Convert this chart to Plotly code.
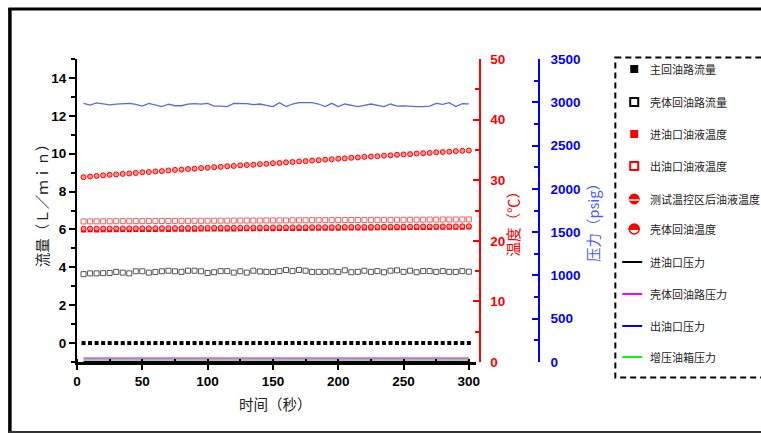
import plotly.graph_objects as go

# ---- data -------------------------------------------------------------
time_s = [5, 10, 15, 20, 25, 30, 35, 40, 45, 50, 55, 60, 65, 70, 75, 80, 85, 90, 95, 100,
          105, 110, 115, 120, 125, 130, 135, 140, 145, 150, 155, 160, 165, 170, 175, 180, 185, 190, 195, 200,
          205, 210, 215, 220, 225, 230, 235, 240, 245, 250, 255, 260, 265, 270, 275, 280, 285, 290, 295, 300]

# flow, L/min
main_return_flow = [0.0, 0.0, 0.0, 0.0, 0.0, 0.0, 0.0, 0.0, 0.0, 0.0, 0.0, 0.0, 0.0, 0.0, 0.0, 0.0, 0.0, 0.0, 0.0, 0.0,
                    0.0, 0.0, 0.0, 0.0, 0.0, 0.0, 0.0, 0.0, 0.0, 0.0, 0.0, 0.0, 0.0, 0.0, 0.0, 0.0, 0.0, 0.0, 0.0, 0.0,
                    0.0, 0.0, 0.0, 0.0, 0.0, 0.0, 0.0, 0.0, 0.0, 0.0, 0.0, 0.0, 0.0, 0.0, 0.0, 0.0, 0.0, 0.0, 0.0, 0.0]
case_return_flow = [3.64, 3.68, 3.68, 3.69, 3.70, 3.76, 3.72, 3.68, 3.79, 3.79, 3.72, 3.75, 3.79, 3.82, 3.79, 3.76, 3.82, 3.82, 3.79, 3.70,
                    3.74, 3.80, 3.80, 3.72, 3.79, 3.72, 3.82, 3.78, 3.76, 3.75, 3.80, 3.86, 3.80, 3.86, 3.82, 3.76, 3.76, 3.76, 3.78, 3.76,
                    3.84, 3.74, 3.76, 3.82, 3.76, 3.80, 3.74, 3.82, 3.84, 3.76, 3.82, 3.74, 3.80, 3.80, 3.76, 3.80, 3.76, 3.76, 3.80, 3.77]

# temperature, degC
inlet_temp = [21.80, 21.81, 21.80, 21.82, 21.83, 21.83, 21.85, 21.84, 21.86, 21.87, 21.86, 21.88, 21.89, 21.88, 21.90, 21.91, 21.90, 21.92, 21.93, 21.94,
              21.93, 21.95, 21.96, 21.96, 21.98, 21.97, 21.99, 22.00, 22.01, 22.00, 22.02, 22.03, 22.03, 22.05, 22.04, 22.06, 22.07, 22.07, 22.09, 22.08,
              22.10, 22.11, 22.11, 22.13, 22.12, 22.14, 22.15, 22.15, 22.17, 22.17, 22.18, 22.19, 22.20, 22.20, 22.22, 22.22, 22.24, 22.25, 22.25, 22.27]
outlet_temp = [23.20, 23.21, 23.21, 23.22, 23.22, 23.23, 23.24, 23.23, 23.25, 23.25, 23.26, 23.26, 23.27, 23.27, 23.28, 23.29, 23.29, 23.30, 23.30, 23.31,
               23.31, 23.32, 23.32, 23.33, 23.34, 23.34, 23.35, 23.35, 23.36, 23.36, 23.37, 23.37, 23.38, 23.39, 23.39, 23.40, 23.40, 23.41, 23.41, 23.42,
               23.42, 23.43, 23.43, 23.44, 23.45, 23.45, 23.46, 23.46, 23.47, 23.47, 23.48, 23.48, 23.49, 23.50, 23.50, 23.51, 23.51, 23.52, 23.52, 23.53]
zone_temp = [30.50, 30.60, 30.70, 30.80, 30.90, 30.95, 31.05, 31.10, 31.20, 31.30, 31.35, 31.45, 31.50, 31.60, 31.70, 31.75, 31.85, 31.90, 32.00, 32.05,
             32.15, 32.20, 32.30, 32.35, 32.45, 32.50, 32.55, 32.65, 32.70, 32.80, 32.85, 32.95, 33.00, 33.10, 33.15, 33.25, 33.30, 33.40, 33.45, 33.55,
             33.60, 33.70, 33.75, 33.85, 33.90, 33.95, 34.05, 34.10, 34.20, 34.25, 34.30, 34.40, 34.45, 34.50, 34.60, 34.65, 34.70, 34.80, 34.85, 34.90]
case_return_temp = [22.00, 22.01, 22.01, 22.02, 22.03, 22.03, 22.04, 22.05, 22.05, 22.06, 22.07, 22.07, 22.08, 22.09, 22.09, 22.10, 22.11, 22.11, 22.12, 22.13,
                    22.13, 22.14, 22.15, 22.15, 22.16, 22.17, 22.17, 22.18, 22.19, 22.19, 22.20, 22.21, 22.21, 22.22, 22.23, 22.23, 22.24, 22.25, 22.25, 22.26,
                    22.27, 22.27, 22.28, 22.29, 22.29, 22.30, 22.31, 22.31, 22.32, 22.33, 22.33, 22.34, 22.35, 22.35, 22.36, 22.37, 22.37, 22.38, 22.39, 22.40]

# pressure, psig
inlet_pressure = [3, 3, 3, 3, 3, 3, 3, 3, 3, 3, 3, 3, 3, 3, 3, 3, 3, 3, 3, 3,
                  3, 3, 3, 3, 3, 3, 3, 3, 3, 3, 3, 3, 3, 3, 3, 3, 3, 3, 3, 3,
                  3, 3, 3, 3, 3, 3, 3, 3, 3, 3, 3, 3, 3, 3, 3, 3, 3, 3, 3, 3]
case_return_pressure = [44, 44, 45, 44, 44, 45, 44, 44, 44, 45, 44, 44, 45, 44, 44, 44, 45, 44, 44, 44,
                        45, 44, 44, 44, 45, 44, 44, 45, 44, 44, 44, 45, 44, 44, 44, 45, 44, 44, 45, 44,
                        44, 44, 45, 44, 44, 44, 45, 44, 44, 45, 44, 44, 44, 45, 44, 44, 44, 45, 44, 44]
outlet_pressure = [2988, 2968, 2992, 2978, 2970, 2978, 2985, 2988, 2975, 2957, 2988, 2972, 2950, 2978, 2960, 2960, 2978, 2985, 2978, 2988,
                   2955, 2955, 2950, 2988, 2988, 2985, 2972, 2980, 2965, 2950, 2995, 2950, 2980, 2995, 2995, 2995, 2980, 2950, 2988, 2950,
                   2980, 2965, 2950, 2965, 2980, 2965, 2950, 2980, 2955, 2958, 2950, 2950, 2950, 2955, 2988, 2975, 2995, 2950, 2985, 2982]
booster_pressure = [24, 24, 25, 24, 24, 24, 25, 24, 24, 24, 25, 24, 24, 24, 25, 24, 24, 24, 25, 24,
                    24, 24, 25, 24, 24, 24, 25, 24, 24, 24, 25, 24, 24, 24, 25, 24, 24, 24, 25, 24,
                    24, 24, 25, 24, 24, 24, 25, 24, 24, 24, 25, 24, 24, 24, 25, 24, 24, 24, 25, 24]

x_ticks = [0, 50, 100, 150, 200, 250, 300]
flow_ticks = [0, 2, 4, 6, 8, 10, 12, 14]
temp_ticks = [0, 10, 20, 30, 40, 50]
pressure_ticks = [0, 500, 1000, 1500, 2000, 2500, 3000, 3500]

legend_labels = ["主回油路流量", "壳体回油路流量", "进油口油液温度", "出油口油液温度",
                 "测试温控区后油液温度", "壳体回油温度", "进油口压力", "壳体回油路压力",
                 "出油口压力", "增压油箱压力"]

# ---- page geometry (pixels) -------------------------------------------
W, H = 761, 433
ML, MR, MT, MB = 77, 0, 59, 71
PW, PH = W - ML - MR, H - MT - MB


def px(xp):
    return (xp - ML) / PW


def py(yp):
    return (H - MB - yp) / PH


RED = "#ff0000"
BLUE = "#0000ff"
TICK_FONT = dict(family="Liberation Sans, Arial", size=13.5, weight="bold")
CJK = "Noto Sans CJK SC"

fig = go.Figure()

# flow series (left axis)
fig.add_trace(go.Scatter(x=time_s, y=main_return_flow, mode="markers", yaxis="y",
                         marker=dict(symbol="square", size=4, color="black")))
fig.add_trace(go.Scatter(x=time_s, y=case_return_flow, mode="markers", yaxis="y",
                         marker=dict(symbol="square-open", size=5, color="#555", line=dict(width=1))))

# pressure series (blue axis)
fig.add_trace(go.Scatter(x=time_s, y=inlet_pressure, mode="lines", yaxis="y3",
                         line=dict(color="black", width=1.5)))
fig.add_trace(go.Scatter(x=time_s, y=booster_pressure, mode="lines", yaxis="y3",
                         line=dict(color="#7de87d", width=2)))
fig.add_trace(go.Scatter(x=time_s, y=case_return_pressure, mode="lines", yaxis="y3",
                         line=dict(color="#e060e8", width=2)))
fig.add_trace(go.Scatter(x=time_s, y=outlet_pressure, mode="lines", yaxis="y3",
                         line=dict(color="#5a66f0", width=1.3)))

# temperature series (red axis)
fig.add_trace(go.Scatter(x=time_s, y=outlet_temp, mode="markers", yaxis="y2",
                         marker=dict(symbol="square-open", size=5, color="#f06060", line=dict(width=1))))
fig.add_trace(go.Scatter(x=time_s, y=inlet_temp, mode="markers", yaxis="y2",
                         marker=dict(symbol="square", size=5, color=RED)))
fig.add_trace(go.Scatter(x=time_s, y=case_return_temp, mode="markers", yaxis="y2",
                         marker=dict(symbol="circle", size=5, color="#ff9090", line=dict(color=RED, width=1))))
fig.add_trace(go.Scatter(x=time_s, y=zone_temp, mode="markers", yaxis="y2",
                         marker=dict(symbol="circle", size=5, color="#ff9090", line=dict(color=RED, width=1))))

x_right = (478 - ML) / PW
fig.update_layout(
    width=W, height=H,
    margin=dict(l=ML, r=MR, t=MT, b=MB, pad=0),
    paper_bgcolor="white", plot_bgcolor="white",
    showlegend=False,
    xaxis=dict(domain=[0, x_right], range=[0, 305.2], tickvals=x_ticks,
               showline=True, linecolor="black", linewidth=2.5,
               ticks="outside", ticklen=5, tickwidth=1.5, tickcolor="black",
               minor=dict(dtick=25, tick0=0, ticks="inside", ticklen=3, tickwidth=1.5, tickcolor="black"),
               tickfont=dict(TICK_FONT, color="black"),
               showgrid=False, zeroline=False),
    yaxis=dict(range=[-1, 15], tickvals=flow_ticks,
               showline=True, linecolor="black", linewidth=2,
               ticks="outside", ticklen=6, tickwidth=1.5, tickcolor="black",
               minor=dict(dtick=1, tick0=0, ticks="outside", ticklen=4, tickwidth=1.5, tickcolor="black"),
               tickfont=dict(TICK_FONT, color="black"),
               showgrid=False, zeroline=False),
    yaxis2=dict(range=[0, 50], tickvals=temp_ticks, overlaying="y", anchor="free",
                position=(482 - ML) / PW, side="right",
                showline=True, linecolor=RED, linewidth=2,
                ticks="inside", ticklen=6, tickwidth=1.5, tickcolor=RED,
                minor=dict(dtick=5, tick0=0, ticks="inside", ticklen=4, tickwidth=1.5, tickcolor=RED),
                tickfont=dict(TICK_FONT, color=RED), ticklabelstandoff=7,
                showgrid=False, zeroline=False),
    yaxis3=dict(range=[0, 3500], tickvals=pressure_ticks, overlaying="y", anchor="free",
                position=(541.5 - ML) / PW, side="right",
                showline=True, linecolor=BLUE, linewidth=2,
                ticks="inside", ticklen=6, tickwidth=1.5, tickcolor=BLUE,
                minor=dict(dtick=250, tick0=0, ticks="inside", ticklen=4, tickwidth=1.5, tickcolor=BLUE),
                tickfont=dict(TICK_FONT, color=BLUE), ticklabelstandoff=8,
                showgrid=False, zeroline=False),
)

# axis titles
titles = [
    ("流量（Ｌ／ｍｉｎ）", 41, 202, -90, "#222222"),
    ("时间（秒）", 277, 403, 0, "#222222"),
    ("温度（℃）", 515, 220, -90, RED),
    ("压力（psig）", 596, 219, -90, "#5060e0"),
]
for text, xp, yp, ang, col in titles:
    fig.add_annotation(text=text, x=px(xp), y=py(yp), xref="paper", yref="paper",
                       showarrow=False, textangle=ang, xanchor="center", yanchor="middle",
                       font=dict(family=CJK, size=14.5, color=col))

shapes = []
# page frame
shapes.append(dict(type="line", xref="paper", yref="paper", x0=px(9.5), x1=px(9.5), y0=py(8), y1=py(433),
                   line=dict(color="black", width=3.5)))
shapes.append(dict(type="line", xref="paper", yref="paper", x0=px(8), x1=px(770), y0=py(9), y1=py(9),
                   line=dict(color="black", width=3)))
shapes.append(dict(type="line", xref="paper", yref="paper", x0=px(8), x1=px(770), y0=py(432), y1=py(432),
                   line=dict(color="#333333", width=2)))
# legend box
shapes.append(dict(type="rect", xref="paper", yref="paper", x0=px(618.5), x1=px(800), y0=py(57.5), y1=py(377.5),
                   line=dict(color="black", width=2, dash="6px,4px"), fillcolor="rgba(0,0,0,0)"))

legend_y = [69, 102, 134, 166, 199, 229, 262, 294, 326, 357]
icon_x = 637.5


def pix_shape(kind, cy, **kw):
    d = dict(type=kind, xref="paper", yref="paper", xsizemode="pixel", ysizemode="pixel",
             xanchor=px(icon_x), yanchor=py(cy))
    d.update(kw)
    return d


R = 5
K = 0.5523 * R
# upper and lower half discs built from cubic curves
UPPER = f"M {-R},0 C {-R},{K} {-K},{R} 0,{R} C {K},{R} {R},{K} {R},0 Z"
LOWER = f"M {-R},0 C {-R},{-K} {-K},{-R} 0,{-R} C {K},{-R} {R},{-K} {R},0 Z"

# legend icons
shapes.append(pix_shape("rect", legend_y[0], x0=-4, x1=4, y0=-4, y1=4, fillcolor="black", line=dict(width=0)))
shapes.append(pix_shape("rect", legend_y[1], x0=-4, x1=4, y0=-4, y1=4, fillcolor="white",
                        line=dict(color="black", width=2)))
shapes.append(pix_shape("rect", legend_y[2], x0=-4, x1=4, y0=-4, y1=4, fillcolor=RED, line=dict(width=0)))
shapes.append(pix_shape("rect", legend_y[3], x0=-4, x1=4, y0=-4, y1=4, fillcolor="white",
                        line=dict(color=RED, width=2)))
# half-filled circles
shapes.append(pix_shape("path", legend_y[4], path=UPPER, fillcolor=RED, line=dict(color=RED, width=1)))
shapes.append(pix_shape("path", legend_y[4], path=LOWER, fillcolor=RED, line=dict(color=RED, width=1)))
shapes.append(pix_shape("line", legend_y[4], x0=-5, x1=5, y0=-1, y1=-1, line=dict(color="white", width=1.5)))
shapes.append(pix_shape("path", legend_y[5], path=LOWER, fillcolor="white", line=dict(color=RED, width=1.5)))
shapes.append(pix_shape("path", legend_y[5], path=UPPER, fillcolor=RED, line=dict(color=RED, width=1.5)))
for cy, col in zip(legend_y[6:], ["black", "#ff00ff", BLUE, "#00ff00"]):
    shapes.append(pix_shape("line", cy, x0=-12, x1=8, y0=0, y1=0, line=dict(color=col, width=2)))

fig.update_layout(shapes=shapes)

for label, cy in zip(legend_labels, legend_y):
    fig.add_annotation(text=label, x=px(651), y=py(cy), xref="paper", yref="paper",
                       showarrow=False, xanchor="left", yanchor="middle",
                       font=dict(family=CJK, size=11, color="#222222"))

fig.write_html("out.html")
